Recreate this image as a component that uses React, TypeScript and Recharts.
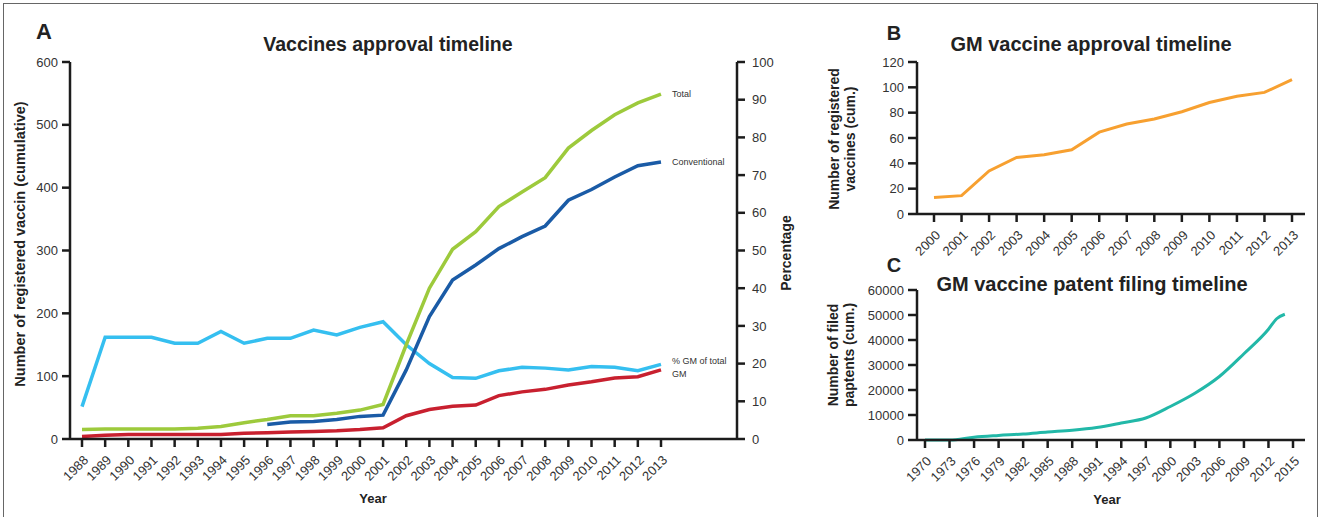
import React from 'react';
import { LineChart, Line, XAxis, YAxis } from 'recharts';

// Panel A: vaccines approval timeline
const yearsA = [
  1988, 1989, 1990, 1991, 1992, 1993, 1994, 1995, 1996, 1997, 1998, 1999, 2000,
  2001, 2002, 2003, 2004, 2005, 2006, 2007, 2008, 2009, 2010, 2011, 2012, 2013,
];
const totalA = [
  15, 16, 16, 16, 16, 17, 20, 26, 31, 37, 37, 41, 46, 55, 150, 240, 302, 330, 370,
  393, 416, 463, 491, 516, 535, 549,
];
const conventionalA = [
  null, null, null, null, null, null, null, null, 23, 27, 28, 31, 36, 38, 110, 195,
  253, 277, 303, 322, 339, 380, 397, 417, 435, 441,
];
const gmA = [
  4, 6, 7, 7, 7, 7, 7, 9, 10, 11, 12, 13, 15, 18, 37, 47, 52, 54, 69, 75, 79, 86,
  91, 97, 99, 110,
];
const pctGmA = [
  8.6, 27, 27, 27, 25.4, 25.4, 28.5, 25.4, 26.7, 26.7, 28.9, 27.6, 29.6, 31.1, 25,
  20, 16.3, 16.1, 18.1, 19, 18.8, 18.3, 19.2, 19, 18.1, 19.8,
];
const leftTicksA = [0, 100, 200, 300, 400, 500, 600];
const rightTicksA = [0, 10, 20, 30, 40, 50, 60, 70, 80, 90, 100];

// Panel B: GM vaccine approvals (cumulative)
const yearsB = [2000, 2001, 2002, 2003, 2004, 2005, 2006, 2007, 2008, 2009, 2010, 2011, 2012, 2013];
const gmApprovedB = [13, 14.5, 34, 44.6, 46.7, 50.7, 64.6, 71, 75, 80.7, 88, 92.9, 96, 106];
const ticksB = [0, 20, 40, 60, 80, 100, 120];

// Panel C: GM vaccine patent filings (cumulative)
const yearsC = [1970, 1973, 1976, 1979, 1982, 1985, 1988, 1991, 1994, 1997, 2000, 2003, 2006, 2009, 2012, 2013, 2014];
const patentsC = [0, 0, 1100, 1800, 2400, 3200, 3900, 5000, 6800, 8800, 13400, 18700, 25400, 34500, 44300, 48500, 50300];
const xTicksC = [1970, 1973, 1976, 1979, 1982, 1985, 1988, 1991, 1994, 1997, 2000, 2003, 2006, 2009, 2012, 2015];
const yTicksC = [0, 10000, 20000, 30000, 40000, 50000, 60000];

const dataA = yearsA.map((year, i) => ({
  year,
  total: totalA[i],
  conventional: conventionalA[i],
  gm: gmA[i],
  pct: pctGmA[i],
}));
const dataB = yearsB.map((year, i) => ({ year, gm: gmApprovedB[i] }));
const dataC = yearsC.map((year, i) => ({ year, patents: patentsC[i] }));

const FONT = '"Liberation Sans", Arial, Helvetica, sans-serif';
const INK = '#1c1c1c';
const axisStyle = { stroke: INK, strokeWidth: 2.5 };
const yTick = { fontSize: 13, fill: '#333', fontFamily: FONT };

const AngledTick = (props: any) => {
  const { x, y, payload } = props;
  return (
    <g transform={`translate(${x + 7},${y + 12})`}>
      <text textAnchor="end" transform="rotate(-45)" fontSize={13} fill="#333" fontFamily={FONT}>
        {payload.value}
      </text>
    </g>
  );
};

const endLabel = (text: string, last: number, dy: number) => (props: any) => {
  if (props.index !== last) return null;
  return (
    <text x={props.x + 11} y={props.y + dy} fontSize={9} fill="#333" fontFamily={FONT}>
      {text}
    </text>
  );
};

const Title = ({ x, y, w, size, children }: any) => (
  <div
    style={{
      position: 'absolute',
      left: x,
      top: y,
      width: w,
      textAlign: 'center',
      fontFamily: FONT,
      fontWeight: 'bold',
      fontSize: size,
      color: '#222',
      whiteSpace: 'nowrap',
      lineHeight: 1,
    }}
  >
    {children}
  </div>
);

const VLabel = ({ cx, cy, size, lh = 1.3, children }: any) => (
  <div
    style={{
      position: 'absolute',
      left: cx,
      top: cy,
      transform: 'translate(-50%, -50%) rotate(-90deg)',
      fontFamily: FONT,
      fontWeight: 'bold',
      fontSize: size,
      color: '#222',
      whiteSpace: 'nowrap',
      textAlign: 'center',
      lineHeight: lh,
    }}
  >
    {children}
  </div>
);

const App = () => {
  const last = yearsA.length - 1;
  return (
    <div
      style={{
        position: 'absolute',
        left: 0,
        top: 0,
        width: 1320,
        height: 517,
        overflow: 'hidden',
        background: '#fff',
      }}
    >
      <div
        style={{
          position: 'absolute',
          left: 3,
          top: 3,
          width: 1313,
          height: 530,
          border: '1.5px solid #666',
        }}
      />

      {/* A */}
      <div style={{ position: 'absolute', left: 0, top: 0 }}>
        <LineChart width={800} height={517} data={dataA} margin={{ top: 62, right: 23, left: 30, bottom: 18 }}>
          <XAxis
            dataKey="year"
            type="number"
            domain={[1988, 2013]}
            ticks={yearsA}
            interval={0}
            padding={{ left: 12, right: 76 }}
            height={60}
            tick={<AngledTick />}
            tickSize={8}
            tickMargin={2}
            axisLine={axisStyle}
            tickLine={axisStyle}
          />
          <YAxis
            yAxisId="left"
            domain={[0, 600]}
            ticks={leftTicksA}
            width={40}
            tick={yTick}
            tickSize={8}
            tickMargin={4}
            axisLine={axisStyle}
            tickLine={axisStyle}
          />
          <YAxis
            yAxisId="right"
            orientation="right"
            domain={[0, 100]}
            ticks={rightTicksA}
            width={40}
            tick={yTick}
            tickSize={8}
            tickMargin={7}
            axisLine={axisStyle}
            tickLine={axisStyle}
          />
          <Line
            yAxisId="right"
            dataKey="pct"
            stroke="#35bff0"
            strokeWidth={3.5}
            dot={false}
            isAnimationActive={false}
            label={endLabel('% GM of total', last, 0)}
          />
          <Line
            yAxisId="left"
            dataKey="total"
            stroke="#9dca3c"
            strokeWidth={3.5}
            dot={false}
            isAnimationActive={false}
            label={endLabel('Total', last, 3)}
          />
          <Line
            yAxisId="left"
            dataKey="conventional"
            stroke="#1a5ba6"
            strokeWidth={3.5}
            dot={false}
            isAnimationActive={false}
            label={endLabel('Conventional', last, 3)}
          />
          <Line
            yAxisId="left"
            dataKey="gm"
            stroke="#c8202f"
            strokeWidth={3.5}
            dot={false}
            isAnimationActive={false}
            label={endLabel('GM', last, 7)}
          />
        </LineChart>
      </div>
      <Title x={24} y={21} w={40} size={22}>A</Title>
      <Title x={188} y={35} w={400} size={19.5}>Vaccines approval timeline</Title>
      <VLabel cx={20} cy={244} size={14.5}>Number of registered vaccin (cumulative)</VLabel>
      <VLabel cx={786} cy={253} size={14}>Percentage</VLabel>
      <Title x={333} y={492} w={80} size={13}>Year</Title>

      {/* B */}
      <div style={{ position: 'absolute', left: 800, top: 0 }}>
        <LineChart width={520} height={260} data={dataB} margin={{ top: 62, right: 15, left: 67, bottom: 6 }}>
          <XAxis
            dataKey="year"
            type="number"
            domain={[2000, 2013]}
            ticks={yearsB}
            interval={0}
            padding={{ left: 17, right: 13 }}
            height={40}
            tick={<AngledTick />}
            tickSize={8}
            tickMargin={2}
            axisLine={axisStyle}
            tickLine={axisStyle}
          />
          <YAxis
            domain={[0, 120]}
            ticks={ticksB}
            width={50}
            tick={yTick}
            tickSize={9}
            tickMargin={4}
            axisLine={axisStyle}
            tickLine={axisStyle}
          />
          <Line dataKey="gm" stroke="#f7a030" strokeWidth={3} dot={false} isAnimationActive={false} />
        </LineChart>
      </div>
      <Title x={874} y={23} w={40} size={20}>B</Title>
      <Title x={941} y={34} w={300} size={20}>GM vaccine approval timeline</Title>
      <VLabel cx={842} cy={139} size={14} lh={1.15}>
        Number of registered
        <br />
        vaccines (cum.)
      </VLabel>

      {/* C */}
      <div style={{ position: 'absolute', left: 800, top: 260 }}>
        <LineChart width={520} height={257} data={dataC} margin={{ top: 30, right: 15, left: 67, bottom: 37 }}>
          <XAxis
            dataKey="year"
            type="number"
            domain={[1970, 2015]}
            ticks={xTicksC}
            interval={0}
            padding={{ left: 8, right: 12 }}
            height={40}
            tick={<AngledTick />}
            tickSize={8}
            tickMargin={2}
            axisLine={axisStyle}
            tickLine={axisStyle}
          />
          <YAxis
            domain={[0, 60000]}
            ticks={yTicksC}
            width={50}
            tick={yTick}
            tickSize={9}
            tickMargin={4}
            axisLine={axisStyle}
            tickLine={axisStyle}
          />
          <Line
            type="monotone"
            dataKey="patents"
            stroke="#22b8a8"
            strokeWidth={3}
            dot={false}
            isAnimationActive={false}
          />
        </LineChart>
      </div>
      <Title x={874} y={255} w={40} size={20}>C</Title>
      <Title x={932} y={274} w={320} size={20}>GM vaccine patent filing timeline</Title>
      <VLabel cx={841} cy={355} size={14} lh={1.15}>
        Number of filed
        <br />
        paptents (cum.)
      </VLabel>
      <Title x={1067} y={493} w={80} size={13}>Year</Title>
    </div>
  );
};

export default App;
